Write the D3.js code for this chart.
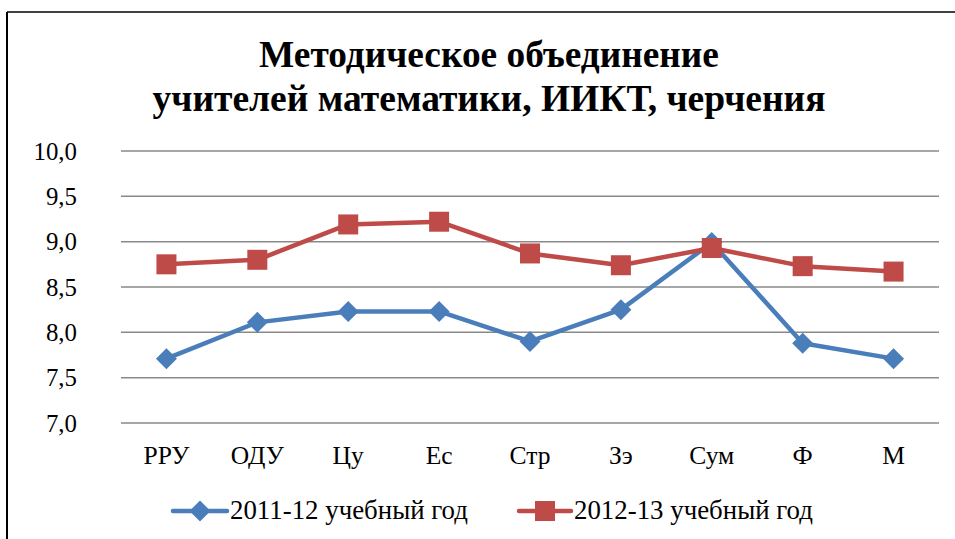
<!DOCTYPE html>
<html><head>
<script src="https://cdn.jsdelivr.net/npm/d3@7"></script>
</head><body>
<script>
const categories = ["РРУ","ОДУ","Цу","Ес","Стр","Зэ","Сум","Ф","М"];
const series2011 = [7.71, 8.11, 8.23, 8.23, 7.90, 8.25, 8.99, 7.88, 7.71];
const series2012 = [8.75, 8.80, 9.19, 9.22, 8.87, 8.74, 8.93, 8.73, 8.67];
const seriesNames = ["2011-12 учебный год", "2012-13 учебный год"];
const yTicks = [7.0, 7.5, 8.0, 8.5, 9.0, 9.5, 10.0];
const titleLines = ["Методическое объединение", "учителей математики, ИИКТ, черчения"];

const W = 955, H = 539;
d3.select("body").style("margin","0px");
const FF = `"Times New Roman", Tinos, "Liberation Serif", "Noto Serif", serif`;
const svg = d3.select("body").append("svg").attr("width", W).attr("height", H)
  .style("display","block").style("font-family", FF);

function fitSize(text, target, base, bold){
  const t = svg.append("text").style("font-family", FF).attr("font-size", base)
    .attr("font-weight", bold ? "bold" : "normal").text(text);
  const w = t.node().getComputedTextLength();
  t.remove();
  return base * target / w;
}

// frame
svg.append("line").attr("x1",7).attr("x2",W).attr("y1",12).attr("y2",12).attr("stroke","#000").attr("stroke-width",1.5);
svg.append("line").attr("x1",7).attr("x2",7).attr("y1",12).attr("y2",H).attr("stroke","#000").attr("stroke-width",2);

const x = d3.scaleBand().domain(categories).range([121, 939]);
const y = d3.scaleLinear().domain([7, 10]).range([423, 151]);

// title
const tY = [67, 111];
const tW = [460, 673];
titleLines.forEach((t,i)=>{
  const fs = fitSize(t, tW[i], 36, true);
  svg.append("text").attr("x", 489).attr("y", tY[i]).attr("text-anchor","middle")
    .style("font-family", FF).attr("font-weight","bold").attr("font-size", fs)
    .text(t);
});

// grid
svg.append("g").selectAll("line").data(yTicks).join("line")
  .attr("x1",121).attr("x2",939).attr("y1",d=>y(d)).attr("y2",d=>y(d))
  .attr("stroke","#898989").attr("stroke-width",1.5);

// y labels
const yfs = fitSize("10,0", 43.5, 24, false);
svg.append("g").selectAll("text").data(yTicks).join("text")
  .attr("x", 77).attr("y", d=>y(d)+8.5).attr("text-anchor","end")
  .style("font-family", FF).attr("font-size", yfs)
  .text(d=>d3.format(".1f")(d).replace(".",","));

// x labels
const xfs = fitSize("ОДУ", 53, 24, false);
svg.append("g").selectAll("text").data(categories).join("text")
  .attr("x", d=>x(d)+x.bandwidth()/2).attr("y", 463.5).attr("text-anchor","middle")
  .style("font-family", FF).attr("font-size", xfs).text(d=>d);

const colors = ["#4A7EBB", "#BE4B48"];
const data = [series2011, series2012];
const line = d3.line().x((d,i)=>x(categories[i])+x.bandwidth()/2).y(d=>y(d));

function marker(g, k, cx, cy){
  if(k===0){
    g.append("path").attr("d","M0,-10.5L10.5,0L0,10.5L-10.5,0Z").attr("transform",`translate(${cx},${cy})`).attr("fill",colors[0]);
  } else {
    g.append("rect").attr("x",cx-10).attr("y",cy-10).attr("width",20).attr("height",20).attr("fill",colors[1]);
  }
}

data.forEach((s,k)=>{
  const g = svg.append("g");
  g.append("path").datum(s).attr("d", line).attr("fill","none").attr("stroke",colors[k])
    .attr("stroke-width",4.5).attr("stroke-linejoin","round");
  s.forEach((v,i)=>marker(g,k,x(categories[i])+x.bandwidth()/2,y(v)));
});

// legend
const lfs = fitSize(seriesNames[0], 238, 24, false);
const leg = [{x1:173,x2:227,tx:230},{x1:519,x2:571,tx:574}];
leg.forEach((l,k)=>{
  const g = svg.append("g");
  g.append("line").attr("x1",l.x1).attr("x2",l.x2).attr("y1",511).attr("y2",511)
    .attr("stroke",colors[k]).attr("stroke-width",4.5).attr("stroke-linecap","round");
  marker(g,k,(l.x1+l.x2)/2,511);
  g.append("text").attr("x",l.tx).attr("y",519)
    .style("font-family", FF).attr("font-size",lfs).text(seriesNames[k]);
});
</script>
</body></html>
